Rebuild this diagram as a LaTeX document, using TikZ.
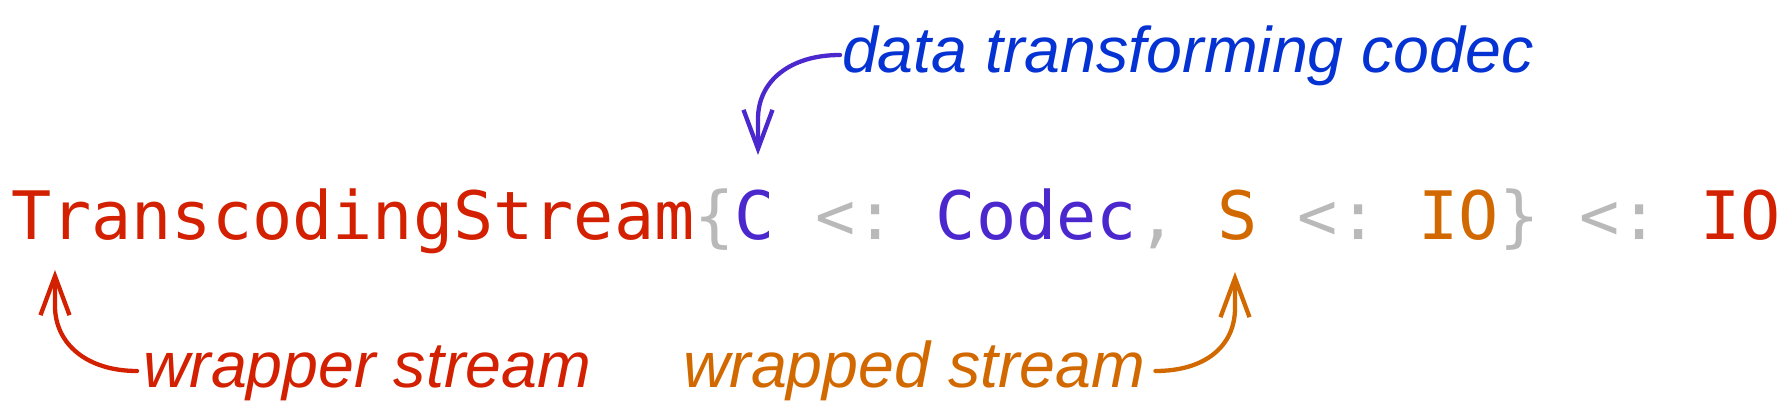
\documentclass[tikz,border=0pt]{standalone}
\usepackage{fontspec}
\newfontfamily\codefont{DejaVu Sans Mono}
\newfontfamily\labelfont{Liberation Sans}
\usetikzlibrary{arrows.meta}
\definecolor{cred}{RGB}{210,32,0}
\definecolor{cgray}{RGB}{185,185,185}
\definecolor{cpurple}{RGB}{75,40,205}
\definecolor{cblue}{RGB}{5,50,210}
\definecolor{corange}{RGB}{210,105,0}
\frenchspacing
\begin{document}
\begin{tikzpicture}[x=1pt,y=1pt,
  code/.style={inner sep=0pt, outer sep=0pt, font=\codefont\fontsize{66.8}{80}\selectfont\frenchspacing},
  lbl/.style={inner sep=0pt, outer sep=0pt, font=\labelfont\itshape\fontsize{64.5}{78}\selectfont},
  pointer/.style={line width=4.3pt, line cap=round, -{Straight Barb[length=39pt,width=29pt,line width=4.3pt]}},
]
\useasboundingbox (0,0) rectangle (1792,417);
\node[code, anchor=base west] (line) at (11,177) {\textcolor{cred}{TranscodingStream}\textcolor{cgray}{\{}\textcolor{cpurple}{C} \textcolor{cgray}{<:} \textcolor{cpurple}{Codec}\textcolor{cgray}{,} \textcolor{corange}{S} \textcolor{cgray}{<:} \textcolor{corange}{IO}\textcolor{cgray}{\}} \textcolor{cgray}{<:} \textcolor{cred}{IO}};
\coordinate (tipC) at (758,262);
\coordinate (tipT) at (55,147);
\coordinate (tipS) at (1235,145);
\node[lbl, anchor=base west, text=cblue] (codec) at (842,344) {data transforming codec};
\node[lbl, anchor=base west, text=cred] (wrapper) at (143,29) {wrapper stream};
\node[lbl, anchor=base west, text=corange] (wrapped) at (683,29) {wrapped stream};
\coordinate (sC) at ([xshift=-2pt,yshift=18pt]codec.base west);
\coordinate (sT) at ([xshift=-6pt,yshift=17pt]wrapper.base west);
\coordinate (sS) at ([xshift=10pt,yshift=17pt]wrapped.base east);
\draw[pointer, cpurple] (sC) .. controls +(-50,0) and +(0,38) .. ([yshift=36pt]tipC) -- (tipC);
\draw[pointer, cred] (sT) .. controls +(-50,0) and +(0,-38) .. ([yshift=-36pt]tipT) -- (tipT);
\draw[pointer, corange] (sS) .. controls +(50,0) and +(0,-38) .. ([yshift=-36pt]tipS) -- (tipS);
\end{tikzpicture}
\end{document}
